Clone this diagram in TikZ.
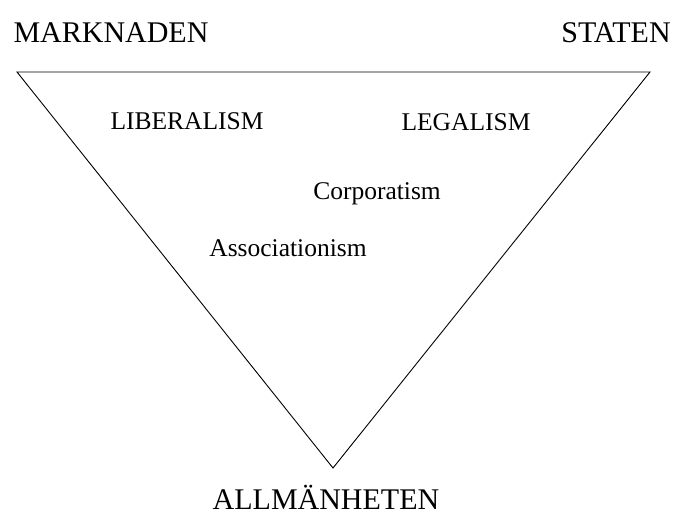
\documentclass[tikz,border=0pt]{standalone}
\usepackage{fontspec}
\setmainfont{Liberation Serif}
\usepackage{tikz}

\tikzset{
  pole/.style={anchor=base,font=\fontsize{30}{30}\selectfont,inner sep=0pt},
  ism/.style={anchor=base,font=\fontsize{25.5}{25.5}\selectfont,inner sep=0pt}
}

\begin{document}
\begin{tikzpicture}[x=1pt,y=-1pt,line width=0.9pt]
  \useasboundingbox (0,0) rectangle (677,516);

  \coordinate (tl) at (17,72);
  \coordinate (tr) at (650,72);
  \coordinate (bot) at (333,468);
  \draw[line join=miter] (tl) -- (tr) -- (bot) -- cycle ;

  \node[pole] (marknaden) at (111,43) {MARKNADEN};
  \node[pole] (staten) at (616,43) {STATEN};
  \node[pole] (allm) at (326,509) {ALLMÄNHETEN};

  \node[ism] (lib) at (187,130) {LIBERALISM};
  \node[ism] (leg) at (466,131) {LEGALISM};
  \node[ism] (corp) at (377,199) {Corporatism};
  \node[ism] (assoc) at (288,256) {Associationism};

\end{tikzpicture}
\end{document}
